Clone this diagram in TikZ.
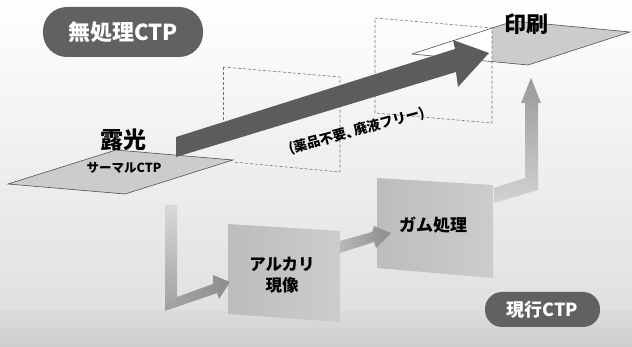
\documentclass[tikz,border=0pt]{standalone}
\usepackage{fontspec}
\setmainfont{Noto Sans CJK JP}
\definecolor{pillgray}{gray}{0.38}
\definecolor{arrowdark}{gray}{0.36}
\definecolor{platefill}{gray}{0.80}
\definecolor{edgegray}{gray}{0.32}
\definecolor{dashgray}{gray}{0.45}
\definecolor{bgA}{gray}{0.88}
\definecolor{bgB}{gray}{0.86}
\definecolor{bgC}{gray}{0.81}
\definecolor{boxA}{gray}{0.74}
\definecolor{boxB}{gray}{0.80}
\begin{document}
\begin{tikzpicture}[x=1pt,y=-1pt,
  pill/.style={fill=pillgray, rounded corners=#1, text=white, inner sep=0pt},
  dashbox/.style={draw=dashgray, line width=0.6pt, dash pattern=on 3pt off 2pt},
  platestyle/.style={fill=platefill, draw=edgegray, line width=0.6pt},
  jfont/.style={font=\bfseries\fontsize{#1}{#1}\selectfont}
]
\useasboundingbox (0,0) rectangle (632,347);
% background
\shade[top color=white, bottom color=bgA] (0,0) rectangle (632,311);
\shade[top color=bgB, bottom color=bgC] (0,311) rectangle (632,347);

% pills
\node[pill=24pt, minimum width=160pt, minimum height=50pt, jfont=22] (nopro) at (123,32) {無処理CTP};
\node[pill=17pt, minimum width=115pt, minimum height=35pt, jfont=18] (cur) at (542.5,309.5) {現行CTP};

% process boxes
\shade[left color=boxA, right color=boxB] (228,224) -- (340,231) -- (340,322) -- (228,314) -- cycle;
\shade[left color=boxA, right color=boxB] (377,178) -- (493,185) -- (493,278) -- (377,268) -- cycle;
\node[jfont=16.5, align=center] (alk) at (282,275) {アルカリ\\[4pt]現像};
\node[jfont=17] (gum) at (433,225) {ガム処理};

% grey process arrows
\shade[top color=gray!30, bottom color=gray!75] (165,205) -- (177,205) -- (177,298) -- (165,311) -- cycle;
\shade[left color=gray!70, right color=gray!110!black] (165,311) -- (177,297) -- (213,284) -- (213,275) -- (230,282) -- (219,299) -- (217,293) -- cycle;
\shade[left color=gray!55, right color=gray!110!black] (340,241) -- (372,232) -- (374,226) -- (391,233) -- (376,248) -- (374,242) -- (340,253) -- cycle;
\shade[top color=gray!120!black, bottom color=gray!35] (494,188) -- (525,178) -- (525,103) -- (521,103) -- (531,78) -- (541,103) -- (538,103) -- (538,190) -- (494,203) -- cycle;

% plates
\filldraw[platestyle] (8,184) -- (116,150) -- (233,160) -- (125,194) -- cycle;
\fill[white] (412,54) -- (514,21) -- (630,32) -- (528,65) -- cycle;
\begin{scope}
  \clip (492,0) rectangle (632,100);
  \fill[platefill] (412,54) -- (514,21) -- (630,32) -- (528,65) -- cycle;
\end{scope}
\draw[edgegray, line width=0.6pt] (412,54) -- (514,21) -- (630,32) -- (528,65) -- cycle;

% dashed boxes
\draw[dashbox] (223,67) -- (340,77) -- (340,172) -- (233,162);
\draw[dashbox] (223,67) -- (223,140);
\draw[dashbox] (375,18) -- (492,28) -- (492,123) -- (375,113) -- cycle;

% big arrow
\fill[arrowdark] (176,137) -- (455,49) -- (453,40) -- (489,53) -- (458,87) -- (456,72) -- (176,157) -- cycle;

% labels
\node[jfont=23] (expo) at (123,140) {露光};
\node[jfont=12.5] (therm) at (124,168) {サーマルCTP};
\node[jfont=22] (print) at (526,24) {印刷};
\node[jfont=13.5, rotate=15] (free) at (357,131) {(薬品不要、\kern-5pt 廃液フリー)};
\end{tikzpicture}
\end{document}
